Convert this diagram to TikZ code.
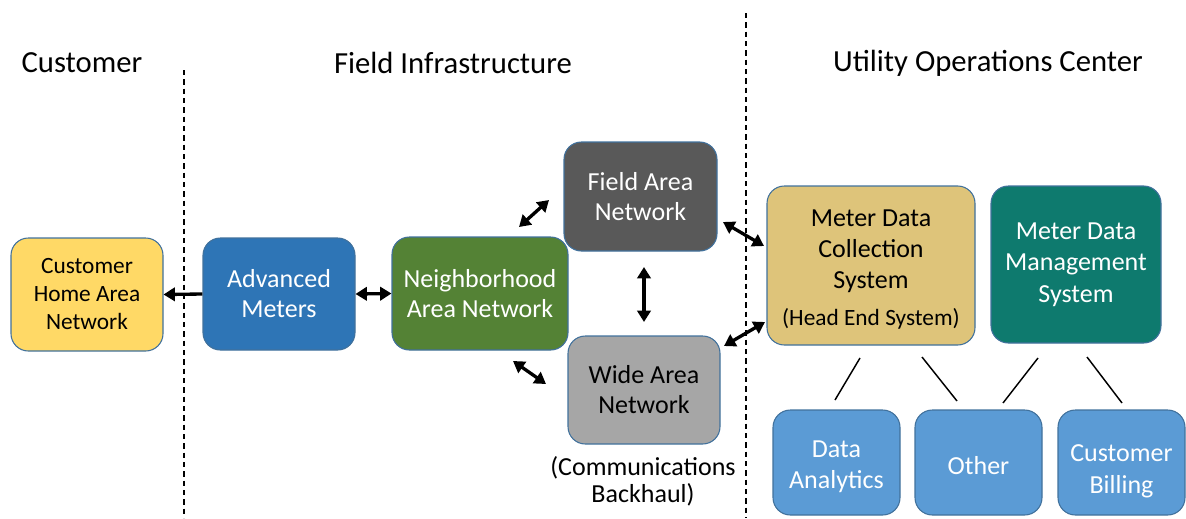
\documentclass[tikz,border=0pt]{standalone}
\usepackage{fontspec}
\setmainfont{Carlito}
\usetikzlibrary{arrows.meta}
\definecolor{cyellow}{RGB}{255,217,102}
\definecolor{cblue}{RGB}{46,117,182}
\definecolor{cgreen}{RGB}{84,130,53}
\definecolor{cdark}{RGB}{89,89,89}
\definecolor{cgrey}{RGB}{166,166,166}
\definecolor{cgold}{RGB}{222,196,122}
\definecolor{cteal}{RGB}{14,122,110}
\definecolor{clight}{RGB}{91,155,213}
\definecolor{cborder}{RGB}{65,113,156}
\tikzset{
  box/.style={draw=cborder, line width=0.8pt, rounded corners=13pt, align=center, inner sep=2pt, font=\fontsize{19.5}{22.5}\selectfont},
  lbl/.style={align=center, font=\fontsize{19.5}{23}\selectfont},
  header/.style={font=\fontsize{23}{27}\selectfont, anchor=center},
  dbl/.style={line width=2.5pt, {Triangle[length=8.5pt,width=10pt]}-{Triangle[length=8.5pt,width=10pt]}},
  sgl/.style={line width=2.5pt, -{Triangle[length=8.5pt,width=10pt]}},
  link/.style={line width=1.1pt},
  divider/.style={dashed, line width=0.8pt, dash pattern=on 4pt off 3pt}
}
\begin{document}
\begin{tikzpicture}[x=0.75pt,y=-0.75pt]
\useasboundingbox (0,0) rectangle (1186,518);
% headers
\node[header] (h1) at (82,63) {Customer};
\node[header] (h2) at (453,63) {Field Infrastructure};
\node[header] (h3) at (988,63) {Utility Operations Center};
% dividers
\coordinate (d1a) at (184,70); \coordinate (d1b) at (184,518);
\coordinate (d2a) at (746,13); \coordinate (d2b) at (746,518);
\draw[divider] (d1a) -- (d1b);
\draw[divider] (d2a) -- (d2b);
% boxes
\node[box, fill=cyellow, minimum width=114pt, minimum height=84.75pt, font=\fontsize{17.5}{21}\selectfont] (chan) at (87,294.5) {Customer\\Home Area\\Network};
\node[box, fill=cblue, text=white, minimum width=114pt, minimum height=84pt] (am) at (279,294) {Advanced\\Meters};
\node[box, fill=cgreen, text=white, minimum width=132pt, minimum height=84.75pt] (nan) at (480,293.5) {Neighborhood\\Area Network};
\node[box, fill=cdark, text=white, minimum width=114.75pt, minimum height=81.75pt] (fan) at (640.5,196.5) {Field Area\\Network};
\node[box, fill=cgrey, minimum width=114pt, minimum height=81pt] (wan) at (644,390) {Wide Area\\Network};
\node[font=\fontsize{19.5}{20.5}\selectfont, align=center] (bh) at (643,481) {(Communications\\Backhaul)};
\node[box, fill=cgold, minimum width=156pt, minimum height=119.25pt] (mdcs) at (871,265.5) {};
\node[font=\fontsize{19.5}{23.2}\selectfont, align=center] (mdcst) at (871,251) {Meter Data\\Collection\\System};
\node[font=\fontsize{17.5}{20}\selectfont] (hes) at (871,319) {(Head End System)};
\node[box, fill=cteal, text=white, minimum width=127.5pt, minimum height=117.75pt, font=\fontsize{19.5}{23.6}\selectfont] (mdms) at (1076,264.5) {Meter Data\\Management\\System};
\node[box, fill=clight, minimum width=95.25pt, minimum height=78.75pt] (da) at (836.5,462.5) {};
\node[box, fill=clight, minimum width=95.25pt, minimum height=78.75pt] (oth) at (978.5,462.5) {};
\node[box, fill=clight, minimum width=95.25pt, minimum height=78.75pt] (cb) at (1121.5,462.5) {};
\node[lbl, text=white] (dat) at (836.5,467) {Data\\Analytics};
\node[lbl, text=white] (otht) at (978.5,466) {Other};
\node[lbl, text=white, font=\fontsize{19.5}{24}\selectfont] (cbt) at (1121.5,471) {Customer\\Billing};
% arrows
\draw[sgl] (am.west) -- (chan.east);
\draw[dbl] (am.east) -- (nan.west);
\coordinate (a1) at (519,227); \coordinate (a2) at (549,200);
\draw[dbl] (a1) -- (a2);
\coordinate (b1) at (644,267); \coordinate (b2) at (644,322);
\draw[dbl] (b1) -- (b2);
\coordinate (c1) at (513,361); \coordinate (c2) at (546,384);
\draw[dbl] (c1) -- (c2);
\coordinate (e1) at (723,222); \coordinate (e2) at (764,246);
\draw[dbl] (e1) -- (e2);
\coordinate (f1) at (724,346); \coordinate (f2) at (765,322);
\draw[dbl] (f1) -- (f2);
% links
\coordinate (l1a) at (860,358); \coordinate (l1b) at (835,400);
\coordinate (l2a) at (922,357); \coordinate (l2b) at (957,401);
\coordinate (l3a) at (1038,358); \coordinate (l3b) at (1003,403);
\coordinate (l4a) at (1087,357); \coordinate (l4b) at (1122,403);
\draw[link] (l1a) -- (l1b);
\draw[link] (l2a) -- (l2b);
\draw[link] (l3a) -- (l3b);
\draw[link] (l4a) -- (l4b);
\end{tikzpicture}
\end{document}
